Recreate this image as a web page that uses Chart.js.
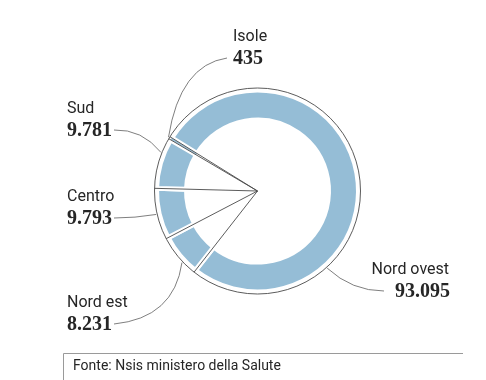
<!DOCTYPE html>
<html>
<head>
<meta charset="utf-8">
<script src="https://cdn.jsdelivr.net/npm/chart.js@4"></script>
<style>
  body { margin: 0; background: #fff; }
  #wrap { width: 486px; height: 380px; }
</style>
</head>
<body>
<div id="wrap"><canvas id="donutChart" width="486" height="380"></canvas></div>
<script>
// data (drawing order: Nord ovest first, Isole last so the thin slice stays visible)
const areas = ["Nord ovest", "Nord est", "Centro", "Sud", "Isole"];
const cases = [93095, 8231, 9793, 9781, 435];
const caseLabels = ["93.095", "8.231", "9.793", "9.781", "435"];

// label layout: text position, leader start / bend, point along the slice
const labelPos = [
  { x: 449, y: 274, align: "right", frac: 0.71, lx: 384, ly: 291, cx: 352, cy: 291 },
  { x: 67, y: 307, align: "left", frac: 0.35, ly: 324, cx: 174, cy: 318 },
  { x: 67, y: 201, align: "left", frac: 0.5, ly: 218, cx: 135, cy: 218 },
  { x: 67, y: 113, align: "left", frac: 0.7, ly: 130, cx: 142, cy: 129 },
  { x: 233, y: 41, align: "left", frac: 0.5, lx: 227, ly: 58, cx: 180, cy: 65 },
];

const blue = "#95bdd6";
const lineColor = "#4a4a4a";
const textColor = "#262626";
const nameFont = "16px Roboto";
const numFont = "bold 20px 'Liberation Serif'";

const outlinePlugin = {
  id: "outline",
  afterDatasetsDraw(chart) {
    const ctx = chart.ctx;
    const arcs = chart.getDatasetMeta(0).data;
    const cx = arcs[0].x, cy = arcs[0].y;
    const R = arcs[0].outerRadius + 2;

    ctx.save();
    ctx.strokeStyle = lineColor;
    ctx.lineWidth = 0.9;
    ctx.beginPath();
    ctx.arc(cx, cy, R, 0, Math.PI * 2);
    ctx.stroke();
    arcs.forEach((a) => {
      ctx.beginPath();
      ctx.moveTo(cx, cy);
      ctx.lineTo(cx + Math.cos(a.startAngle) * R, cy + Math.sin(a.startAngle) * R);
      ctx.stroke();
    });

    // leader lines
    ctx.strokeStyle = "#707070";
    ctx.lineWidth = 0.9;
    ctx.font = numFont;
    arcs.forEach((a, i) => {
      const p = labelPos[i];
      const ang = a.startAngle + (a.endAngle - a.startAngle) * p.frac;
      const ax = cx + Math.cos(ang) * (R + 1);
      const ay = cy + Math.sin(ang) * (R + 1);
      const lx = p.lx !== undefined ? p.lx : p.x + ctx.measureText(caseLabels[i]).width + 2;
      ctx.beginPath();
      ctx.moveTo(lx, p.ly);
      ctx.quadraticCurveTo(p.cx, p.cy, ax, ay);
      ctx.stroke();
    });

    // labels
    ctx.fillStyle = textColor;
    ctx.textBaseline = "alphabetic";
    areas.forEach((name, i) => {
      const p = labelPos[i];
      ctx.textAlign = p.align;
      ctx.font = nameFont;
      ctx.fillText(name, p.x, p.y);
      ctx.font = numFont;
      ctx.fillText(caseLabels[i], p.align === "right" ? p.x + 1 : p.x, p.y + 23);
    });

    // source
    ctx.strokeStyle = "#9a9a9a";
    ctx.lineWidth = 1;
    ctx.beginPath();
    ctx.moveTo(63.5, 380);
    ctx.lineTo(63.5, 353.5);
    ctx.lineTo(463, 353.5);
    ctx.stroke();
    ctx.textAlign = "left";
    ctx.font = "14px Roboto";
    ctx.fillStyle = textColor;
    ctx.fillText("Fonte: Nsis ministero della Salute", 73, 370);
    ctx.restore();
  },
};

const ctx = document.getElementById("donutChart").getContext("2d");
new Chart(ctx, {
  type: "doughnut",
  data: {
    labels: areas,
    datasets: [
      {
        data: cases,
        backgroundColor: blue,
        borderColor: "#ffffff",
        borderWidth: [5, 5, 5, 5, 0.5],
      },
    ],
  },
  options: {
    responsive: false,
    animation: false,
    radius: 101,
    cutout: "70.3%",
    rotation: -58.2,
    layout: {
      padding: { left: 29, right: 0, top: 2, bottom: 0 },
    },
    plugins: {
      legend: { display: false },
      tooltip: { enabled: false },
    },
  },
  plugins: [outlinePlugin],
});
</script>
</body>
</html>
